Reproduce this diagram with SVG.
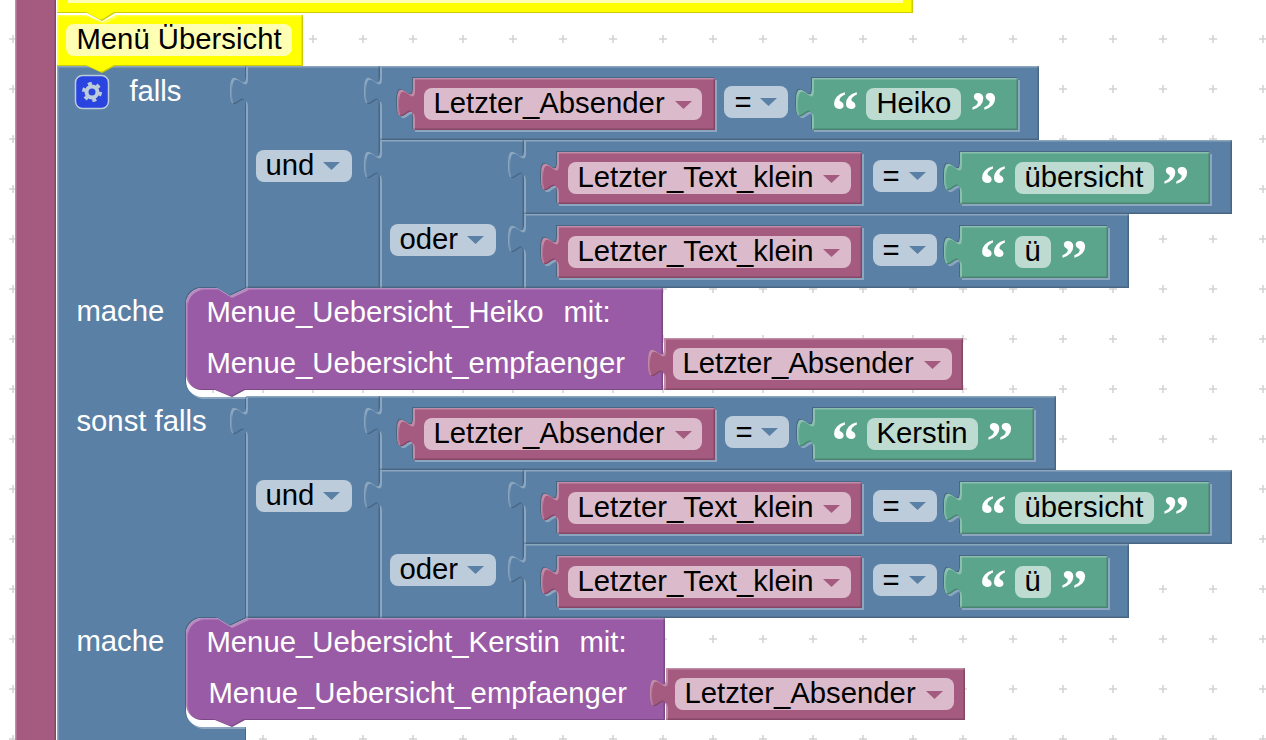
<svg xmlns="http://www.w3.org/2000/svg" width="1266" height="740" viewBox="0 0 1266 740">
<style>
text{font-family:"Liberation Sans",Arial,sans-serif;font-size:29.3px;fill:#000;transform:translate(-.6px,0)}
text.w{fill:#fff}
text.q{font-family:"Liberation Serif","Times New Roman",serif;font-weight:bold;font-size:54px;fill:#fff;text-anchor:middle;transform:translate(0,-2px)}
.bl{fill:#5b80a5;filter:url(#bevel)}
.pk{fill:#a55b80;filter:url(#bevel)}
.gr{fill:#5ba58c;filter:url(#bevel)}
.pu{fill:#995ba5;filter:url(#bevel)}
.ye{fill:#ff0;filter:url(#bevel)}
.in{filter:url(#inset)}
.fp{fill:#dbbbcb}.fb{fill:#bdccdb}.fg{fill:#bddbd1}.fy{fill:#ffffb3}
.ap{fill:#a55b80}.ab{fill:#5b80a5}
</style>
<defs>
<pattern id="grid" patternUnits="userSpaceOnUse" x="-12" y="14" width="50" height="50">
<path d="M21 25h8M25 21v8" stroke="#d2d2d2" stroke-width="1.5" fill="none"/>
</pattern>
<filter id="bevel" filterUnits="userSpaceOnUse" x="0" y="-30" width="1266" height="800" color-interpolation-filters="sRGB">
<feOffset in="SourceAlpha" dx="1.5" dy="1.5" result="o1"/>
<feComposite in="SourceAlpha" in2="o1" operator="out" result="tl"/>
<feOffset in="SourceAlpha" dx="-1.5" dy="-1.5" result="o2"/>
<feComposite in="SourceAlpha" in2="o2" operator="out" result="br"/>
<feFlood flood-color="#fff" flood-opacity=".3"/><feComposite in2="tl" operator="in" result="hl"/>
<feFlood flood-color="#000" flood-opacity=".2"/><feComposite in2="br" operator="in" result="sh"/>
<feMerge><feMergeNode in="SourceGraphic"/><feMergeNode in="hl"/><feMergeNode in="sh"/></feMerge>
</filter>
<filter id="inset" filterUnits="userSpaceOnUse" x="0" y="-30" width="1266" height="800" color-interpolation-filters="sRGB">
<feOffset in="SourceAlpha" dx="-1.5" dy="-1.5" result="o1"/>
<feComposite in="o1" in2="SourceAlpha" operator="out" result="tl"/>
<feOffset in="SourceAlpha" dx="1.5" dy="1.5" result="o2"/>
<feComposite in="o2" in2="SourceAlpha" operator="out" result="br"/>
<feFlood flood-color="#496684"/><feComposite in2="tl" operator="in" result="d"/>
<feFlood flood-color="#8ca6c0"/><feComposite in2="br" operator="in" result="l"/>
<feMerge><feMergeNode in="d"/><feMergeNode in="l"/><feMergeNode in="SourceGraphic"/></feMerge>
</filter>
<path id="arr" d="M0 0h17l-8.500 8z"/>
</defs>
<rect width="1266" height="740" fill="#fff"/>
<rect width="1266" height="740" fill="url(#grid)"/>

<g id="connectors"></g>

<g id="outer-block"><rect class="pk" x="15" y="-20" width="41" height="790"/></g>

<g id="falls-block">
<path class="bl" d="M57 66H246V288H247L230 296L217 288H202a16 16 0 0 0-16 16V381a16 16 0 0 0 16 16H246V618H247L230 626L217 618H202a16 16 0 0 0-16 16V711a16 16 0 0 0 16 16H246V760H57Z"/>
<text class="w" x="130" y="101">falls</text>
<text class="w" x="77" y="321">mache</text>
<text class="w" x="77" y="431">sonst falls</text>
<text class="w" x="77" y="651">mache</text>
<rect x="75.500" y="75.500" width="33" height="33" rx="7" fill="#2a44e0" stroke="#bdccdb" stroke-width="1.500"/>
<circle cx="92" cy="92" r="5.500" fill="none" stroke="#bdccdb" stroke-width="4"/>
<circle cx="92" cy="92" r="8.500" fill="none" stroke="#bdccdb" stroke-width="3" stroke-dasharray="4 4.900"/>
</g>

<g id="top-block">
<path class="ye" d="M57-20H913V13H115L102 21L87 13H57Z"/>
<rect class="fy" x="68" y="-20" width="835" height="23"/>
</g>
<g id="menu-block">
<path class="ye" d="M57 15H86L102 22L116 15H303V66H115L102 73L87 66H57Z"/>
<rect class="fy" x="66" y="24" width="226" height="32" rx="8"/>
<text x="77" y="49">Menü Übersicht</text>
</g>

<g id="und-1">
<path class="bl" d="M246 66V76c0 20-16-16-16 15s16-5 16 15V288H380V66Z"/>
<rect class="fb" x="256" y="150" width="96" height="32" rx="8"/>
<text x="266" y="175">und</text><use href="#arr" class="ab" x="323" y="162"/>
</g>
<g id="cmp-1">
<path class="bl" d="M380 66V76c0 20-16-16-16 15s16-5 16 15V140H1039V66Z"/>
<path class="pk in" d="M413 78V88c0 20-16-16-16 15s16-5 16 15V130H715V78Z"/>
<path class="pk" d="M413 78V88c0 20-16-16-16 15s16-5 16 15V130H715V78Z"/>
<rect class="fp" x="424" y="88" width="278" height="32" rx="8"/>
<text x="434" y="113">Letzter_Absender</text><use href="#arr" class="ap" x="675" y="101"/>
<rect class="fb" x="724" y="86" width="64" height="32" rx="8"/>
<text x="735" y="112">=</text><use href="#arr" class="ab" x="760" y="98"/>
<path class="gr in" d="M812 78V88c0 20-16-16-16 15s16-5 16 15V130H1018V78Z"/>
<path class="gr" d="M812 78V88c0 20-16-16-16 15s16-5 16 15V130H1018V78Z"/>
<text class="q" x="845" y="131">“</text>
<rect class="fg" x="866" y="88" width="95" height="32" rx="8"/>
<text x="877" y="113">Heiko</text>
<text class="q" x="984" y="131">”</text>
</g>
<g id="oder-1">
<path class="bl" d="M380 140V150c0 20-16-16-16 15s16-5 16 15V288H524V140Z"/>
<rect class="fb" x="390" y="224" width="106" height="32" rx="8"/>
<text x="400" y="249">oder</text><use href="#arr" class="ab" x="467" y="236"/>
</g>
<g id="cmp-2">
<path class="bl" d="M524 140V150c0 20-16-16-16 15s16-5 16 15V214H1232V140Z"/>
<path class="pk in" d="M557 152V162c0 20-16-16-16 15s16-5 16 15V204H862V152Z"/>
<path class="pk" d="M557 152V162c0 20-16-16-16 15s16-5 16 15V204H862V152Z"/>
<rect class="fp" x="568" y="162" width="283" height="32" rx="8"/>
<text x="578" y="187">Letzter_Text_klein</text><use href="#arr" class="ap" x="823" y="175"/>
<rect class="fb" x="873" y="160" width="64" height="32" rx="8"/>
<text x="883" y="186">=</text><use href="#arr" class="ab" x="909" y="172"/>
<path class="gr in" d="M960 152V162c0 20-16-16-16 15s16-5 16 15V204H1210V152Z"/>
<path class="gr" d="M960 152V162c0 20-16-16-16 15s16-5 16 15V204H1210V152Z"/>
<text class="q" x="993" y="205">“</text>
<rect class="fg" x="1015" y="162" width="139" height="32" rx="8"/>
<text x="1025" y="187">übersicht</text>
<text class="q" x="1176" y="205">”</text>
</g>
<g id="cmp-3">
<path class="bl" d="M524 214V224c0 20-16-16-16 15s16-5 16 15V288H1129V214Z"/>
<path class="pk in" d="M557 226V236c0 20-16-16-16 15s16-5 16 15V278H862V226Z"/>
<path class="pk" d="M557 226V236c0 20-16-16-16 15s16-5 16 15V278H862V226Z"/>
<rect class="fp" x="568" y="236" width="283" height="32" rx="8"/>
<text x="578" y="261">Letzter_Text_klein</text><use href="#arr" class="ap" x="823" y="249"/>
<rect class="fb" x="873" y="234" width="64" height="32" rx="8"/>
<text x="883" y="260">=</text><use href="#arr" class="ab" x="909" y="246"/>
<path class="gr in" d="M960 226V236c0 20-16-16-16 15s16-5 16 15V278H1108V226Z"/>
<path class="gr" d="M960 226V236c0 20-16-16-16 15s16-5 16 15V278H1108V226Z"/>
<text class="q" x="993" y="279">“</text>
<rect class="fg" x="1015" y="236" width="36" height="32" rx="8"/>
<text x="1025" y="261">ü</text>
<text class="q" x="1074" y="279">”</text>
</g>
<g id="call-1">
<path class="pu" d="M186 304a16 16 0 0 1 16-16H217L230 296L247 288H663V390H245L232 397L215 390H202a16 16 0 0 1-16-16Z"/>
<text class="w" x="207" y="322">Menue_Uebersicht_Heiko</text>
<text class="w" x="564" y="322">mit:</text>
<text class="w" x="207" y="373">Menue_Uebersicht_empfaenger</text>
<path class="pk" d="M664 338V348c0 20-16-16-16 15s16-5 16 15V390H963V338Z"/>
<rect class="fp" x="673" y="348" width="279" height="32" rx="8"/>
<text x="683" y="373">Letzter_Absender</text><use href="#arr" class="ap" x="924" y="361"/>
</g>

<g id="und-2">
<path class="bl" d="M246 396V406c0 20-16-16-16 15s16-5 16 15V618H380V396Z"/>
<rect class="fb" x="256" y="480" width="96" height="32" rx="8"/>
<text x="266" y="505">und</text><use href="#arr" class="ab" x="323" y="492"/>
</g>
<g id="cmp-4">
<path class="bl" d="M380 396V406c0 20-16-16-16 15s16-5 16 15V470H1056V396Z"/>
<path class="pk in" d="M413 408V418c0 20-16-16-16 15s16-5 16 15V460H715V408Z"/>
<path class="pk" d="M413 408V418c0 20-16-16-16 15s16-5 16 15V460H715V408Z"/>
<rect class="fp" x="424" y="418" width="278" height="32" rx="8"/>
<text x="434" y="443">Letzter_Absender</text><use href="#arr" class="ap" x="675" y="431"/>
<rect class="fb" x="725" y="416" width="64" height="32" rx="8"/>
<text x="736" y="442">=</text><use href="#arr" class="ab" x="761" y="428"/>
<path class="gr in" d="M813 408V418c0 20-16-16-16 15s16-5 16 15V460H1034V408Z"/>
<path class="gr" d="M813 408V418c0 20-16-16-16 15s16-5 16 15V460H1034V408Z"/>
<text class="q" x="845" y="461">“</text>
<rect class="fg" x="867" y="418" width="111" height="32" rx="8"/>
<text x="877" y="443">Kerstin</text>
<text class="q" x="1000" y="461">”</text>
</g>
<g id="oder-2">
<path class="bl" d="M380 470V480c0 20-16-16-16 15s16-5 16 15V618H524V470Z"/>
<rect class="fb" x="390" y="554" width="106" height="32" rx="8"/>
<text x="400" y="579">oder</text><use href="#arr" class="ab" x="467" y="566"/>
</g>
<g id="cmp-5">
<path class="bl" d="M524 470V480c0 20-16-16-16 15s16-5 16 15V544H1232V470Z"/>
<path class="pk in" d="M557 482V492c0 20-16-16-16 15s16-5 16 15V534H862V482Z"/>
<path class="pk" d="M557 482V492c0 20-16-16-16 15s16-5 16 15V534H862V482Z"/>
<rect class="fp" x="568" y="492" width="283" height="32" rx="8"/>
<text x="578" y="517">Letzter_Text_klein</text><use href="#arr" class="ap" x="823" y="505"/>
<rect class="fb" x="873" y="490" width="64" height="32" rx="8"/>
<text x="883" y="516">=</text><use href="#arr" class="ab" x="909" y="502"/>
<path class="gr in" d="M960 482V492c0 20-16-16-16 15s16-5 16 15V534H1210V482Z"/>
<path class="gr" d="M960 482V492c0 20-16-16-16 15s16-5 16 15V534H1210V482Z"/>
<text class="q" x="993" y="535">“</text>
<rect class="fg" x="1015" y="492" width="139" height="32" rx="8"/>
<text x="1025" y="517">übersicht</text>
<text class="q" x="1176" y="535">”</text>
</g>
<g id="cmp-6">
<path class="bl" d="M524 544V554c0 20-16-16-16 15s16-5 16 15V618H1129V544Z"/>
<path class="pk in" d="M557 556V566c0 20-16-16-16 15s16-5 16 15V608H862V556Z"/>
<path class="pk" d="M557 556V566c0 20-16-16-16 15s16-5 16 15V608H862V556Z"/>
<rect class="fp" x="568" y="566" width="283" height="32" rx="8"/>
<text x="578" y="591">Letzter_Text_klein</text><use href="#arr" class="ap" x="823" y="579"/>
<rect class="fb" x="873" y="564" width="64" height="32" rx="8"/>
<text x="883" y="590">=</text><use href="#arr" class="ab" x="909" y="576"/>
<path class="gr in" d="M960 556V566c0 20-16-16-16 15s16-5 16 15V608H1108V556Z"/>
<path class="gr" d="M960 556V566c0 20-16-16-16 15s16-5 16 15V608H1108V556Z"/>
<text class="q" x="993" y="609">“</text>
<rect class="fg" x="1015" y="566" width="36" height="32" rx="8"/>
<text x="1025" y="591">ü</text>
<text class="q" x="1074" y="609">”</text>
</g>
<g id="call-2">
<path class="pu" d="M186 634a16 16 0 0 1 16-16H217L230 626L247 618H665V720H245L232 727L215 720H202a16 16 0 0 1-16-16Z"/>
<text class="w" x="207" y="652">Menue_Uebersicht_Kerstin</text>
<text class="w" x="580" y="652">mit:</text>
<text class="w" x="209" y="703">Menue_Uebersicht_empfaenger</text>
<path class="pk" d="M666 668V678c0 20-16-16-16 15s16-5 16 15V720H965V668Z"/>
<rect class="fp" x="675" y="678" width="279" height="32" rx="8"/>
<text x="685" y="703">Letzter_Absender</text><use href="#arr" class="ap" x="926" y="691"/>
</g>
</svg>
